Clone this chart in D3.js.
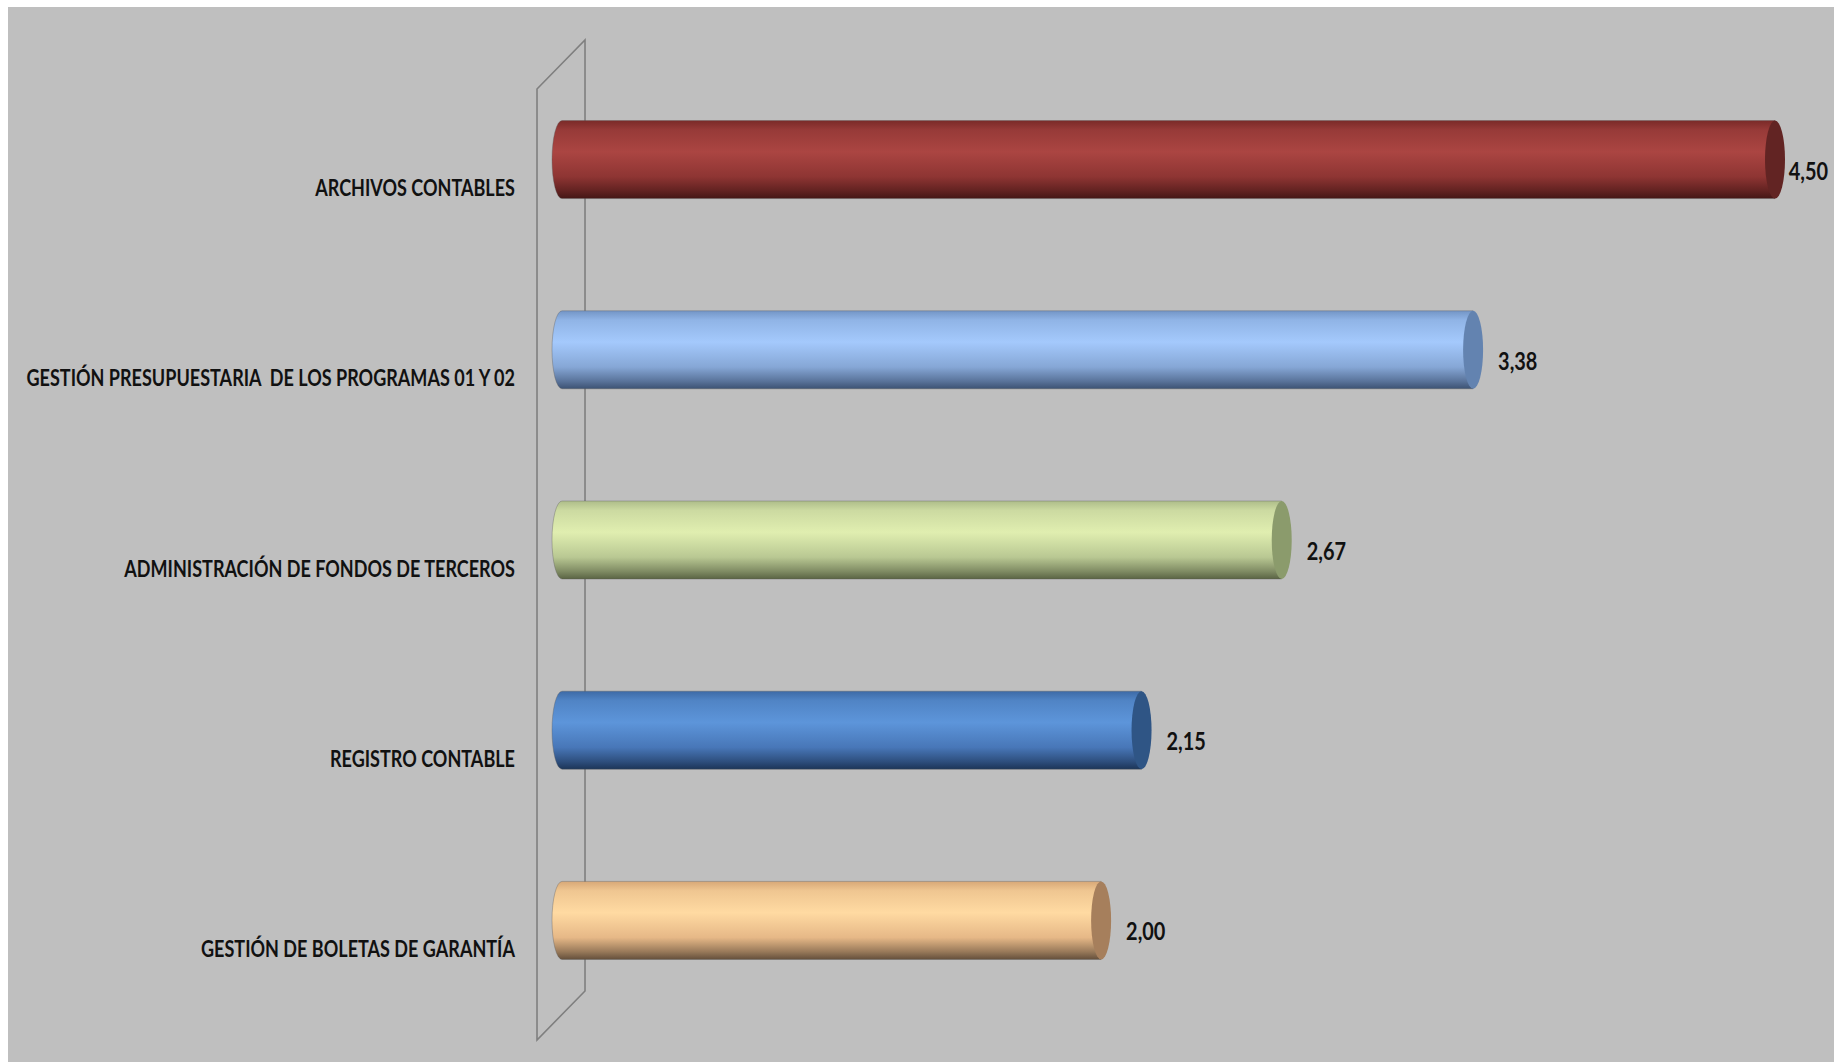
<!DOCTYPE html>
<html>
<head>
<meta charset="utf-8">
<script src="https://cdn.jsdelivr.net/npm/d3@7"></script>
<style>
  html, body { margin: 0; padding: 0; background: #ffffff; }
  svg { display: block; }
  text { font-family: Lato, "Open Sans", "Liberation Sans", sans-serif; font-weight: bold; fill: #111; }
</style>
</head>
<body>
<div id="chart"></div>
<script>
// data
const categories = [
  "ARCHIVOS CONTABLES",
  "GESTIÓN PRESUPUESTARIA  DE LOS PROGRAMAS 01 Y 02",
  "ADMINISTRACIÓN DE FONDOS DE TERCEROS",
  "REGISTRO CONTABLE",
  "GESTIÓN DE BOLETAS DE GARANTÍA"
];
const values = [4.50, 3.38, 2.67, 2.15, 2.00];

// cylinder colours: [top edge, highlight, middle, bottom, end cap]
const palette = [
  ["#7a2a28", "#ab4542", "#8e3533", "#441615", "#622423"],
  ["#7395c6", "#a4c9fc", "#86a7d6", "#3c5273", "#6383b0"],
  ["#aebd8a", "#e0eeb0", "#b9c893", "#5a6444", "#8b9b6c"],
  ["#3d6aa6", "#5d95da", "#4877b8", "#1c3558", "#2f5585"],
  ["#d8a877", "#ffdaa2", "#e6b887", "#65503c", "#a67f5c"]
];

const W = 1834, H = 1062;
const depth = { dx: 48, dy: -49 };   // 3D wall offset
const squeeze = 0.83;                // narrow look of the original font

const svg = d3.select("#chart").append("svg")
  .attr("width", W).attr("height", H);

svg.append("rect")
  .attr("x", 8).attr("y", 7)
  .attr("width", W - 8).attr("height", H - 7)
  .attr("fill", "#bfbfbf");

const y = d3.scaleBand().domain(categories).range([89, 1040]).padding(0);
const x = d3.scaleLinear().domain([0, d3.max(values)]).range([562, 1775]);

// back wall outline
const wx = 537;
const wall = d3.path();
wall.moveTo(wx, y.range()[0]);
wall.lineTo(wx + depth.dx, y.range()[0] + depth.dy);
wall.lineTo(wx + depth.dx, y.range()[1] + depth.dy);
wall.lineTo(wx, y.range()[1]);
wall.closePath();
svg.append("path").attr("d", wall.toString())
  .attr("fill", "none").attr("stroke", "#7f7f7f").attr("stroke-width", 1.6);

// gradients
const defs = svg.append("defs");
palette.forEach((p, i) => {
  const g = defs.append("linearGradient").attr("id", "cyl" + i)
    .attr("x1", 0).attr("y1", 0).attr("x2", 0).attr("y2", 1);
  [[0, p[0]], [0.12, d3.interpolateRgb(p[0], p[1])(0.6)], [0.4, p[1]],
   [0.72, p[2]], [0.9, d3.interpolateRgb(p[2], p[3])(0.6)], [1, p[3]]]
    .forEach(s => g.append("stop").attr("offset", s[0]).attr("stop-color", s[1]));
});

const r = 39, rx = 10;
const cyOf = i => y(categories[i]) + y.bandwidth() / 2 + depth.dy / 2;
const bars = svg.append("g").selectAll("g").data(values).join("g");

bars.append("path")
  .attr("d", (v, i) => {
    const cy = cyOf(i);
    const x0 = x(0), x1 = x(v);
    return `M${x0},${cy - r}L${x1},${cy - r}L${x1},${cy + r}L${x0},${cy + r}` +
      `A${rx},${r} 0 0 1 ${x0},${cy - r}Z`;
  })
  .attr("fill", (v, i) => `url(#cyl${i})`)
  .attr("stroke", "rgba(90,90,90,0.35)").attr("stroke-width", 1);

bars.append("ellipse")
  .attr("cx", v => x(v))
  .attr("cy", (v, i) => cyOf(i))
  .attr("rx", rx).attr("ry", r)
  .attr("fill", (v, i) => palette[i][4]);

// value labels
const fmt = v => d3.format(".2f")(v).replace(".", ",");
bars.append("text")
  .attr("font-size", 24)
  .text(fmt)
  .attr("transform", function (v, i) {
    const w = this.getComputedTextLength() * squeeze;
    let tx = x(v) + rx + 15;
    if (tx + w > W - 6) tx = W - 6 - w;
    return `translate(${tx},${cyOf(i) + 20}) scale(${squeeze},1)`;
  });

// category labels
svg.append("g").selectAll("text").data(categories).join("text")
  .attr("font-size", 22)
  .attr("text-anchor", "end")
  .style("white-space", "pre")
  .attr("transform", d => `translate(515,${y(d) + y.bandwidth() / 2 + 12}) scale(0.82,1)`)
  .text(d => d);
</script>
</body>
</html>
